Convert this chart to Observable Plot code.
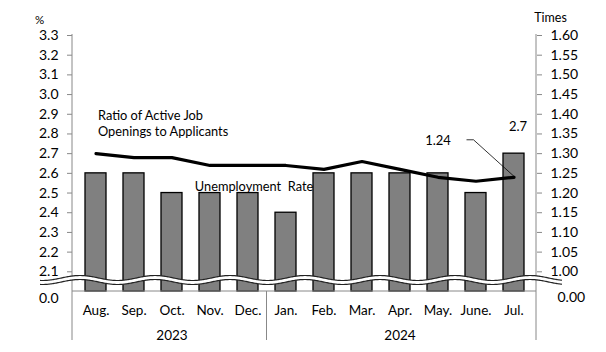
<!DOCTYPE html>
<html><head><meta charset="utf-8">
<script src="https://cdn.jsdelivr.net/npm/d3@7"></script>
<script src="https://cdn.jsdelivr.net/npm/@observablehq/plot@0.6"></script>
<style>body{margin:0;background:#fff} svg{display:block}</style>
</head><body><div id="chart"></div>
<script>
const months = ["Aug.","Sep.","Oct.","Nov.","Dec.","Jan.","Feb.","Mar.","Apr.","May.","June.","Jul."];
const unemployment = [2.6,2.6,2.5,2.5,2.5,2.4,2.6,2.6,2.6,2.6,2.5,2.7];
const ratio = [1.30,1.29,1.29,1.27,1.27,1.27,1.26,1.28,1.26,1.24,1.23,1.24];
const years = ["2023","2024"];
const yearMidMonth = ["Oct.","Apr."];
const yearStartMonth = ["Aug.","Jan."];
const leftTicks = [2.1,2.2,2.3,2.4,2.5,2.6,2.7,2.8,2.9,3.0,3.1,3.2,3.3];
const rightTickLabels = ["1.00","1.05","1.10","1.15","1.20","1.25","1.30","1.35","1.40","1.45","1.50","1.55","1.60"];
const leftZeroLabel = "0.0";
const rightZeroLabel = "0.00";
const leftUnit = "%";
const rightUnit = "Times";
const ratioTitle = "Ratio of Active Job\nOpenings to Applicants";
const rateTitle = "Unemployment\u00a0\u00a0Rate";

const yBase = 2.0;
const toLeft = r => yBase + (r - 0.95) * 2;
const data = months.map((m, i) => ({month: m, u: unemployment[i], r: ratio[i]}));
const last = data[data.length - 1];
const FONT = "Lato, 'Open Sans', sans-serif";

const plot = Plot.plot({
  width: 606, height: 352,
  marginLeft: 72, marginRight: 70, marginTop: 35, marginBottom: 61,
  style: {fontFamily: FONT, fontSize: "13.5px", color: "#000", background: "#fff"},
  x: {domain: months, paddingInner: 0.45, paddingOuter: 0.225, axis: null},
  y: {domain: [yBase, 3.3], axis: null},
  marks: [
    Plot.barY(data, {x: "month", y1: yBase, y2: "u", fill: "#808080", stroke: "#000", strokeWidth: 1.3}),
    Plot.line(data, {x: "month", y: d => toLeft(d.r), stroke: "#000", strokeWidth: 3.2}),
    Plot.axisY({anchor: "left", ticks: leftTicks, tickFormat: d => d.toFixed(1), tickSize: 5, tickPadding: 9, stroke: "#888", fill: "#000", label: null, fontSize: 14}),
    Plot.axisY({anchor: "right", ticks: leftTicks, tickFormat: (d, i) => rightTickLabels[i], tickSize: 5, tickPadding: 9, stroke: "#888", fill: "#000", label: null, fontSize: 14}),
    Plot.text([leftZeroLabel], {frameAnchor: "bottom-left", text: d => d, dx: -14, dy: 7, textAnchor: "end", lineAnchor: "middle", fontSize: 14}),
    Plot.text([rightZeroLabel], {frameAnchor: "bottom-right", text: d => d, dx: 21, dy: 6, textAnchor: "start", lineAnchor: "middle", fontSize: 14}),
    Plot.text([leftUnit], {frameAnchor: "top-left", text: d => d, dx: -33, dy: -15, textAnchor: "middle", lineAnchor: "middle", fontSize: 11.5}),
    Plot.text([rightUnit], {frameAnchor: "top-right", text: d => d, dx: 14, dy: -18, textAnchor: "middle", lineAnchor: "middle", fontSize: 12.5}),
    Plot.text(months, {x: d => d, frameAnchor: "bottom", text: d => d, dy: 19, lineAnchor: "middle"}),
    Plot.text(years, {x: (d, i) => yearMidMonth[i], frameAnchor: "bottom", text: d => d, dy: 44, lineAnchor: "middle"}),
    Plot.text([ratioTitle], {x: () => "Aug.", y: () => 2.855, text: d => d, textAnchor: "start", dx: 2, lineHeight: 1.2, fontSize: 12.8}),
    Plot.text([rateTitle], {x: () => "Dec.", y: () => 2.533, text: d => d, dx: 6, fontSize: 12.8}),
    Plot.text([ratio[9].toFixed(2)], {x: () => "May.", y: () => toLeft(1.24), text: d => d, dy: -36, fontSize: 13}),
    Plot.text([last.u.toFixed(1)], {x: () => last.month, y: () => last.u, text: d => d, dx: 4, dy: -27, fontSize: 13})
  ]
});

document.getElementById("chart").appendChild(plot);

// decorations: axis lines, separators, leader line, axis break
const sx = plot.scale("x"), sy = plot.scale("y");
const svg = d3.select(plot);
const x0 = 72, x1 = 606 - 70;
const yTop = sy.apply(3.3), yBot = sy.apply(yBase), yEnd = 340;
const g = svg.append("g");
const bw = sx.bandwidth, step = sx.step;
g.append("line").attr("x1", x0).attr("x2", x1).attr("y1", yBot).attr("y2", yBot).attr("stroke", "#888");
g.append("line").attr("x1", x0).attr("x2", x0).attr("y1", yTop - 1).attr("y2", yEnd).attr("stroke", "#888");
g.append("line").attr("x1", x1).attr("x2", x1).attr("y1", yTop - 1).attr("y2", yEnd).attr("stroke", "#888");
yearStartMonth.slice(1).forEach(m => {
  const xs = sx.apply(m) - (step - bw) / 2;
  g.append("line").attr("x1", xs).attr("x2", xs).attr("y1", yBot).attr("y2", yEnd).attr("stroke", "#888");
});
// leader from "1.24" label to July point
const mayX = sx.apply("May.") + bw / 2, julX = sx.apply(last.month) + bw / 2;
const lblY = sy.apply(toLeft(1.24)) - 37;
g.append("polyline")
  .attr("points", [[mayX + 29, lblY], [mayX + 36, lblY], [julX + 1, sy.apply(toLeft(last.r))]].map(p => p.join(",")).join(" "))
  .attr("fill", "none").attr("stroke", "#000").attr("stroke-width", 0.8);
// wavy axis break
const wy = 280, amp = 2.5, gap = 4, period = 75, phase = 455;
const xsW = d3.range(40, 563, 1);
const f = (x, off) => wy + off - amp * Math.cos((x - phase) / period * 2 * Math.PI);
const up = xsW.map(x => [x, f(x, -gap / 2)]), lo = xsW.map(x => [x, f(x, gap / 2)]);
g.append("path").attr("d", d3.line()(up.concat(lo.slice().reverse())) + "Z").attr("fill", "#fff").attr("stroke", "none");
g.append("path").attr("d", d3.line()(up)).attr("fill", "none").attr("stroke", "#222").attr("stroke-width", 1.2);
g.append("path").attr("d", d3.line()(lo)).attr("fill", "none").attr("stroke", "#222").attr("stroke-width", 1.2);
</script>
</body></html>
